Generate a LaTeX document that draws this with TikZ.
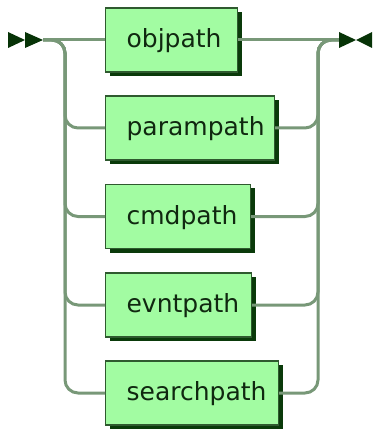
\documentclass[tikz,border=0pt]{standalone}
\usepackage{fontspec}
\setmainfont{DejaVu Sans}
\usetikzlibrary{shadows}
\definecolor{boxfill}{HTML}{A2FCA2}
\definecolor{boxline}{HTML}{2F5A2F}
\definecolor{shadowc}{HTML}{0A3A0A}
\definecolor{linec}{HTML}{789878}
\definecolor{markc}{HTML}{073307}
\definecolor{textc}{HTML}{102810}
\tikzset{
  box/.style={draw=boxline, line width=1.2pt, fill=boxfill, anchor=west,
    minimum height=64pt, inner xsep=0pt, inner ysep=0pt, text width=#1, align=left,
    text height=19pt, text depth=4pt, text=textc,
    font=\fontsize{25}{30}\selectfont,
    drop shadow={shadow xshift=4pt, shadow yshift=-4pt, fill=shadowc, opacity=1}},
  conn/.style={draw=linec, line width=3pt},
  curved/.style={conn, rounded corners=13pt},
  markfill/.style={fill=markc}
}
\begin{document}
\begin{tikzpicture}[x=1pt,y=-1pt]
\useasboundingbox (0,0) rectangle (374,430);
% rails and terminals
\coordinate (start) at (43,40);
\coordinate (end) at (339,40);
\coordinate (lrail) at (65,40);
\coordinate (rrail) at (318,40);
% boxes
\node[box=132pt] (b1) at (105,40) {\hspace*{21pt}objpath};
\node[box=169pt] (b2) at (105,128) {\hspace*{21pt}parampath};
\node[box=145pt] (b3) at (105,216.5) {\hspace*{21pt}cmdpath};
\node[box=146pt] (b4) at (105,305) {\hspace*{21pt}evntpath};
\node[box=173pt] (b5) at (105,393) {\hspace*{21pt}searchpath};
% connectors
\draw[conn] (start) -- (b1.west);
\draw[conn] (b1.east) -- (end);
\foreach \b in {b2,b3,b4,b5}{
  \draw[curved] (start) -- (lrail) |- (\b.west);
  \draw[curved] (\b.east) -| (rrail) -- (end);
}
% start and end markers
\fill[markfill] (8,32) -- (25,40) -- (8,48) -- cycle;
\fill[markfill] (25,32) -- (43,40) -- (25,48) -- cycle;
\fill[markfill] (339,32) -- (356,40) -- (339,48) -- cycle;
\fill[markfill] (372,32) -- (356,40) -- (372,48) -- cycle;
\end{tikzpicture}
\end{document}
